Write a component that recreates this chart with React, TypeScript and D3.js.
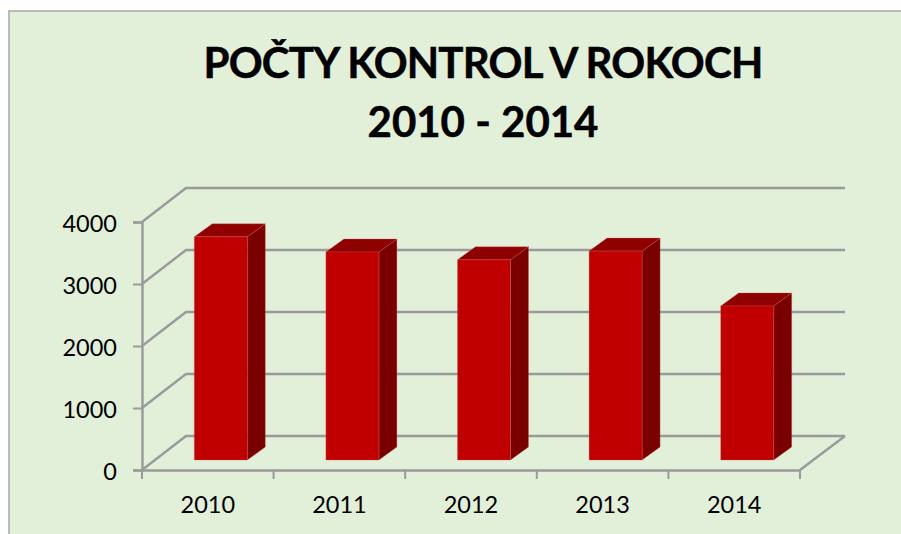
import React, { useRef, useEffect } from "react";
import * as d3 from "d3";

const years = ["2010", "2011", "2012", "2013", "2014"];
const kontroly = [3600, 3355, 3230, 3370, 2485];
const yTicks = [0, 1000, 2000, 3000, 4000];
const titleLines = ["POČTY KONTROL V ROKOCH", "2010 - 2014"];

const width = 901;
const height = 534;
const font = "Lato, Carlito, sans-serif";
const gridColor = "#9a9a9a";

export default function App() {
  const svgRef = useRef<SVGSVGElement>(null);

  useEffect(() => {
    const svg = d3.select(svgRef.current);
    svg.selectAll("*").remove();

    const x = d3.scaleBand().domain(years).range([142, 800]);
    const y = d3.scaleLinear().domain([0, 4000]).range([470, 222]);

    // depth of the 3d box
    const depthX = 44;
    const depthY = 34;
    const barW = 53;
    const barDx = 13; // bars sit a bit into the floor
    const barDy = 10;
    const sideX = 18;
    const sideY = 13;

    svg
      .append("rect")
      .attr("x", 9)
      .attr("y", 11)
      .attr("width", width)
      .attr("height", height)
      .attr("fill", "#e2efd9")
      .attr("stroke", "#a6a6a6")
      .attr("stroke-width", 1.5);

    svg
      .append("g")
      .selectAll("text")
      .data(titleLines)
      .join("text")
      .attr("x", 483)
      .attr("y", (_, i) => 78 + i * 59)
      .attr("text-anchor", "middle")
      .attr("font-family", font)
      .attr("font-weight", 700)
      .attr("font-size", 42)
      .attr("letter-spacing", (_, i) => (i === 0 ? -0.8 : 0))
      .attr("stroke", "#000")
      .attr("stroke-width", 0.5)
      .attr("fill", "#000")
      .text((d) => d);

    const grid = svg
      .append("g")
      .attr("fill", "none")
      .attr("stroke", gridColor)
      .attr("stroke-width", 2.4);

    // walls: gridlines run up the side wall and along the back
    grid
      .selectAll("path.wall")
      .data(yTicks)
      .join("path")
      .attr("class", "wall")
      .attr("d", (d) =>
        d3.line()([
          [x.range()[0], y(d)],
          [x.range()[0] + depthX, y(d) - depthY],
          [x.range()[1] + depthX + 1, y(d) - depthY],
        ])
      );

    // right edge of the floor
    grid
      .append("path")
      .attr("d", d3.line()([
        [x.range()[1], y(0)],
        [x.range()[1] + depthX + 1, y(0) - depthY],
      ]));

    const yAxis = svg
      .append("g")
      .attr("transform", `translate(${x.range()[0]},0)`)
      .call(d3.axisLeft(y).tickValues(yTicks).tickSize(9).tickPadding(16).tickFormat(d3.format("d")));
    const xAxis = svg
      .append("g")
      .attr("transform", `translate(0,${y(0)})`)
      .call(d3.axisBottom(x).tickSize(0).tickPadding(26));

    xAxis
      .selectAll("g.edge")
      .data([...years.map((d) => x(d)!), x.range()[1]])
      .join("line")
      .attr("class", "edge")
      .attr("x1", (d) => d)
      .attr("x2", (d) => d)
      .attr("y1", 0)
      .attr("y2", 9)
      .attr("stroke", gridColor)
      .attr("stroke-width", 2);

    [yAxis, xAxis].forEach((a) => {
      a.select(".domain").attr("stroke", gridColor).attr("stroke-width", 2.4);
      a.selectAll(".tick line").attr("stroke", gridColor).attr("stroke-width", 2);
      a.selectAll("text")
        .attr("font-family", font)
        .attr("font-size", 23.5)
        .attr("fill", "#000");
    });
    yAxis.selectAll("text").attr("dy", "0.42em");
    xAxis.selectAll(".tick text").attr("dy", "0.71em");

    const bars = svg
      .append("g")
      .selectAll("g")
      .data(years.map((year, i) => ({ year, value: kontroly[i] })))
      .join("g")
      .attr("stroke", "#c86060")
      .attr("stroke-opacity", 0.5)
      .attr("stroke-width", 0.6)
      .attr("stroke-linejoin", "round");

    const left = (d: { year: string }) =>
      x(d.year)! + x.bandwidth() / 2 - barW / 2 + barDx;
    const bottom = y(0) - barDy;
    const top = (d: { value: number }) => y(d.value) - barDy;

    bars
      .append("path")
      .attr("fill", "#7a0000")
      .attr("d", (d) =>
        d3.line()([
          [left(d) + barW, bottom],
          [left(d) + barW + sideX, bottom - sideY],
          [left(d) + barW + sideX, top(d) - sideY],
          [left(d) + barW, top(d)],
        ]) + "Z"
      );
    bars
      .append("path")
      .attr("fill", "#8f0000")
      .attr("d", (d) =>
        d3.line()([
          [left(d), top(d)],
          [left(d) + sideX, top(d) - sideY],
          [left(d) + barW + sideX, top(d) - sideY],
          [left(d) + barW, top(d)],
        ]) + "Z"
      );
    bars
      .append("rect")
      .attr("fill", "#c00000")
      .attr("x", (d) => left(d))
      .attr("y", (d) => top(d))
      .attr("width", barW)
      .attr("height", (d) => bottom - top(d));
  }, []);

  return (
    <svg
      ref={svgRef}
      width={width}
      height={height}
      style={{ position: "absolute", left: 0, top: 0, background: "#fff" }}
    ></svg>
  );
}
